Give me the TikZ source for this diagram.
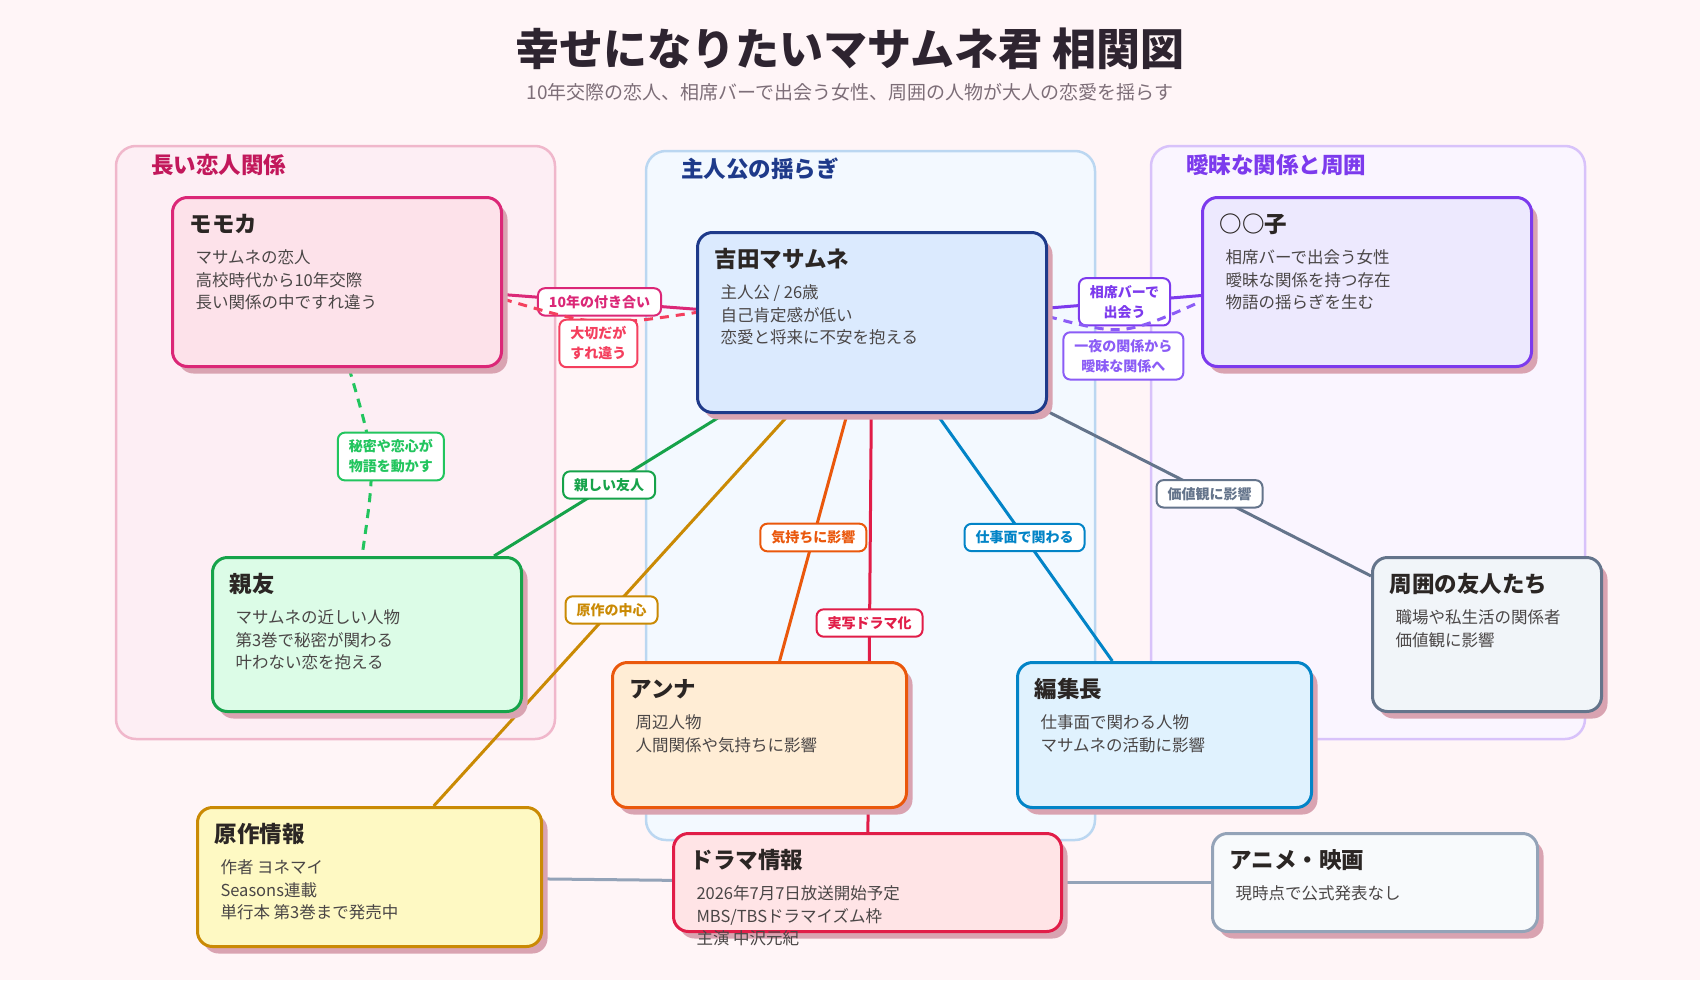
\documentclass[tikz,border=0pt]{standalone}
\usepackage{fontspec}
\setmainfont{Noto Sans CJK JP}
\usepackage{tikz}
\usetikzlibrary{
  positioning,
  shadows
}

\definecolor{corFundo}{HTML}{FFF5F7}
\definecolor{corSombra}{HTML}{D9A3B1}
\definecolor{corTitulo}{HTML}{2E2430}
\definecolor{corSub}{HTML}{7D6E78}
\definecolor{corNome}{HTML}{2B2624}
\definecolor{corTexto}{HTML}{4A4646}
% grupos
\definecolor{grupoRosa}{HTML}{FDEEF4}
\definecolor{bordaRosa}{HTML}{F0B7CB}
\definecolor{tituloRosa}{HTML}{C2185B}
\definecolor{grupoAzul}{HTML}{F3F9FF}
\definecolor{bordaAzul}{HTML}{BBD7F1}
\definecolor{tituloAzul}{HTML}{1E3A8A}
\definecolor{grupoLilas}{HTML}{FAF5FF}
\definecolor{bordaLilas}{HTML}{D8C2FA}
\definecolor{tituloLilas}{HTML}{7C3AED}
% personagens
\definecolor{momokaCor}{HTML}{DB2777}
\definecolor{momokaFundo}{HTML}{FDE2EA}
\definecolor{masamuneCor}{HTML}{1E3A8A}
\definecolor{masamuneFundo}{HTML}{DBEAFE}
\definecolor{marukoCor}{HTML}{7C3AED}
\definecolor{marukoFundo}{HTML}{EDE9FE}
\definecolor{shinyuCor}{HTML}{16A34A}
\definecolor{shinyuFundo}{HTML}{DCFCE7}
\definecolor{annaCor}{HTML}{EA580C}
\definecolor{annaFundo}{HTML}{FFEDD5}
\definecolor{henshuCor}{HTML}{0284C7}
\definecolor{henshuFundo}{HTML}{E0F2FE}
\definecolor{amigosCor}{HTML}{64748B}
\definecolor{amigosFundo}{HTML}{F1F5F9}
\definecolor{gensakuCor}{HTML}{CA8A04}
\definecolor{gensakuFundo}{HTML}{FEF9C3}
\definecolor{dramaCor}{HTML}{E11D48}
\definecolor{dramaFundo}{HTML}{FFE4E6}
\definecolor{animeCor}{HTML}{94A3B8}
\definecolor{animeFundo}{HTML}{F8FAFC}
% ligacoes
\definecolor{rosaClaro}{HTML}{F43F5E}
\definecolor{lilasClaro}{HTML}{8B5CF6}
\definecolor{verdeClaro}{HTML}{22C55E}

\pgfdeclarelayer{fundo}
\pgfdeclarelayer{linhas}
\pgfsetlayers{fundo,linhas,main}

% ficha: largura, altura, nome, texto
\newcommand{\ficha}[4]{%
  \begin{minipage}[t][#2pt][t]{#1pt}%
    \raggedright\parindent=0pt
    {\leftskip=17pt\fontsize{22.5}{27}\selectfont\bfseries\color{corNome}%
     \rule{0pt}{34.5pt}#3\par}%
    \vspace{9.3pt}%
    {\leftskip=23pt\fontsize{16.5}{22.5}\selectfont\color{corTexto}#4\par}%
  \end{minipage}}

\begin{document}
\begin{tikzpicture}[
    x=1pt, y=1pt,
    caixa/.style 2 args={
    draw=#1,
    fill=#2,
    line width=3pt,
    rounded corners=15pt,
    inner sep=0pt,
    anchor=north west,
    drop shadow={shadow xshift=6pt, shadow yshift=-7pt,
      fill=corSombra, opacity=1}
    },
    grupo/.style 2 args={
    draw=#1,
    fill=#2,
    line width=2.5pt,
    rounded corners=20pt
    },
    nomegrupo/.style={
    text=#1,
    anchor=west,
    inner sep=0pt,
    font=\fontsize{22.5}{27}\selectfont\bfseries
    },
    rotulo/.style={
    draw=#1,
    text=#1,
    fill=white,
    solid,
    line width=2pt,
    rounded corners=7pt,
    inner xsep=11pt,
    inner ysep=7pt,
    align=center,
    font=\fontsize{14}{20}\selectfont\bfseries
    },
    liga/.style={draw=#1, line width=3pt},
    tracejada/.style={draw=#1, line width=3pt, dash pattern=on 9pt off 7pt}
    ]
    
    % fundo e grupos
    \begin{pgfonlayer}{fundo}
    \fill[corFundo] (0,0) rectangle (1700,-980);
    \draw[grupo={bordaRosa}{grupoRosa}] (116,-146) rectangle (555,-739);
    \draw[grupo={bordaAzul}{grupoAzul}] (646,-151) rectangle (1095,-840);
    \draw[grupo={bordaLilas}{grupoLilas}] (1151,-146) rectangle (1585,-739);
    \end{pgfonlayer}
    
    \node[font=\fontsize{44}{50}\selectfont\bfseries, text=corTitulo]
    (titulo) at (850,-49) {幸せになりたいマサムネ君 相関図};
    \node[font=\fontsize{19}{23}\selectfont, text=corSub]
    (subtitulo) at (850,-92)
    {10年交際の恋人、相席バーで出会う女性、周囲の人物が大人の恋愛を揺らす};
    
    \node[nomegrupo=tituloRosa] (g1) at (151,-165) {長い恋人関係};
    \node[nomegrupo=tituloAzul] (g2) at (681,-169) {主人公の揺らぎ};
    \node[nomegrupo=tituloLilas] (g3) at (1186,-165) {曖昧な関係と周囲};
    
    % personagens
    \node[caixa={momokaCor}{momokaFundo}] (momoka) at (171,-196)
    {\ficha{329}{169}{モモカ}{マサムネの恋人\\高校時代から10年交際\\長い関係の中ですれ違う}};
    
    \node[caixa={masamuneCor}{masamuneFundo}] (masamune) at (696,-231)
    {\ficha{349}{180}{吉田マサムネ}{主人公 / 26歳\\自己肯定感が低い\\恋愛と将来に不安を抱える}};
    
    \node[caixa={marukoCor}{marukoFundo}, right=698pt of momoka] (maruko)
    {\ficha{329}{169}{○○子}{相席バーで出会う女性\\曖昧な関係を持つ存在\\物語の揺らぎを生む}};
    
    \node[caixa={shinyuCor}{shinyuFundo}] (shinyu) at (211,-556)
    {\ficha{309}{154}{親友}{マサムネの近しい人物\\第3巻で秘密が関わる\\叶わない恋を抱える}};
    
    \node[caixa={annaCor}{annaFundo}] (anna) at (611,-661)
    {\ficha{294}{145}{アンナ}{周辺人物\\人間関係や気持ちに影響}};
    
    \node[caixa={henshuCor}{henshuFundo}, right=108pt of anna] (henshu)
    {\ficha{294}{145}{編集長}{仕事面で関わる人物\\マサムネの活動に影響}};
    
    \node[caixa={amigosCor}{amigosFundo}] (amigos) at (1371,-556)
    {\ficha{229}{154}{周囲の友人たち}{職場や私生活の関係者\\価値観に影響}};
    
    \node[caixa={gensakuCor}{gensakuFundo}] (gensaku) at (196,-806)
    {\ficha{344}{139}{原作情報}{作者 ヨネマイ\\Seasons連載\\単行本 第3巻まで発売中}};
    
    \node[caixa={dramaCor}{dramaFundo}] (drama) at (672,-832)
    {\ficha{388}{98}{ドラマ情報}{2026年7月7日放送開始予定\\MBS/TBSドラマイズム枠\\主演 中沢元紀}};
    
    \node[caixa={animeCor}{animeFundo}, right=148pt of drama] (anime)
    {\ficha{325}{98}{アニメ・映画}{現時点で公式発表なし}};
    
    % ligacoes
    \begin{pgfonlayer}{linhas}
    \draw[liga=momokaCor] (momoka) --
    node[rotulo=momokaCor] {10年の付き合い} (masamune);
    \draw[tracejada=rosaClaro] ([yshift=-17pt]momoka.east)
    .. controls (598,-327) .. ([yshift=10pt]masamune.west)
    node[rotulo=rosaClaro, pos=0.5, anchor=north, yshift=3pt] {大切だが\\すれ違う};
    
    \draw[liga=marukoCor] (masamune) --
    node[rotulo=marukoCor] {相席バーで\\出会う} (maruko);
    \draw[tracejada=lilasClaro] ([yshift=6pt]masamune.east)
    .. controls (1123,-336) .. ([yshift=-19.5pt]maruko.west)
    node[rotulo=lilasClaro, pos=0.5, anchor=north, yshift=-2pt] {一夜の関係から\\曖昧な関係へ};
    
    \draw[tracejada=verdeClaro] ([xshift=12pt]momoka.south)
    .. controls (376,-460) .. ([xshift=-5pt]shinyu.north)
    node[rotulo=verdeClaro, pos=0.5, xshift=20pt, yshift=4pt] {秘密や恋心が\\物語を動かす};
    
    \draw[liga=shinyuCor] (masamune) --
    node[rotulo=shinyuCor] {親しい友人} (shinyu);
    \draw[liga=gensakuCor] (masamune) --
    node[rotulo=gensakuCor] {原作の中心} (gensaku);
    \draw[liga=annaCor] (masamune) --
    node[rotulo=annaCor] {気持ちに影響} (anna);
    \draw[liga=dramaCor] (masamune) --
    node[rotulo=dramaCor] {実写ドラマ化} (drama);
    \draw[liga=henshuCor] (masamune) --
    node[rotulo=henshuCor] {仕事面で関わる} (henshu);
    \draw[liga=amigosCor] (masamune) --
    node[rotulo=amigosCor] {価値観に影響} (amigos);
    
    \draw[liga=animeCor] (gensaku) -- (drama);
    \draw[liga=animeCor] (drama) -- (anime);
    \end{pgfonlayer}
    
    \end{tikzpicture}
\end{document}
